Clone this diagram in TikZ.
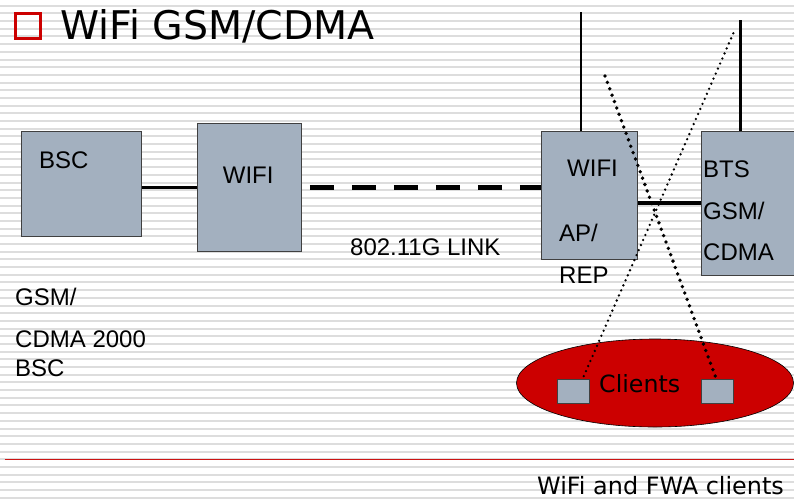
\documentclass[tikz,border=0pt]{standalone}
\usepackage{fontspec}
\setmainfont{DejaVu Sans}
\newfontfamily\arialfont{Liberation Sans}
\usetikzlibrary{shapes.geometric}

\definecolor{boxgray}{RGB}{163,176,191}
\definecolor{slidered}{RGB}{204,0,0}
\definecolor{rulered}{RGB}{205,20,20}
\definecolor{stripegray}{RGB}{221,221,221}

\tikzset{
	unit/.style={draw=black!75, fill=boxgray, line width=0.8pt, inner sep=0pt, anchor=north west},
	txt/.style={font=\arialfont\fontsize{24}{29}\selectfont, inner sep=0pt, anchor=base west, align=left},
	wire/.style={line width=3.6pt},
	airlink/.style={line width=5.7pt, dash pattern=on 24pt off 18pt, dash phase=34pt},
	radio/.style={line width=#1, dash pattern=on 0pt off 6.5pt, line cap=round},
}

\begin{document}
\begin{tikzpicture}[x=1pt,y=-1pt]
	\useasboundingbox (0,0) rectangle (794,498);
	\clip (0,0) rectangle (794,498);
	\fill[white] (0,0) rectangle (794,498);
	% slide stripes
	\foreach \i in {0,...,64}
		\draw[stripegray, line width=2pt] (0,5.7+\i*7.6875) -- (794,5.7+\i*7.6875);

	% title
	\node[draw=slidered, line width=3pt, minimum size=25pt, inner sep=0pt] (bullet) at (27.5,25.5) {};
	\node[font=\fontsize{39.5}{45}\selectfont, inner sep=0pt, anchor=base west] (title) at (60,39.5) {WiFi GSM/CDMA};

	% boxes
	\node[unit, minimum width=120pt, minimum height=105pt] (bsc) at (21,131) {};
	\node[unit, minimum width=104pt, minimum height=128pt] (wifi) at (197,123) {};
	\node[unit, minimum width=96pt, minimum height=128pt] (ap) at (541,131) {};
	\node[unit, minimum width=110pt, minimum height=144pt] (bts) at (701,131) {};

	% texts (multi-line ones sit on their last baseline)
	\node[txt] (bsctxt) at (39,168) {BSC};
	\node[txt] (wifitxt) at (222.7,183.6) {WIFI};
	\node[txt] (aptxt) at (567,176.5) {WIFI};
	\node[txt, font=\arialfont\fontsize{24}{41.5}\selectfont] (reptxt) at (559,283) {AP/\\REP};
	\node[txt, font=\arialfont\fontsize{24}{41.6}\selectfont] (btstxt) at (703,260.7) {BTS\\GSM/\\CDMA};
	\node[txt] (linktxt) at (350,255.5) {802.11G LINK};
	\node[txt] (gsmtxt) at (15,305) {GSM/};
	\node[txt] (cdmatxt) at (15,376.7) {CDMA 2000\\BSC};

	% links
	\draw[wire] (wifi.west -| bsc.east) -- (wifi.west);
	\draw[airlink] (wifi.east) -- (wifi.east -| ap.west);
	\draw[wire] ([yshift=-7.7pt]ap.east) -- ([yshift=-7.7pt]ap.east -| bts.west);

	% antennas
	\coordinate (apant) at (580.7,12);
	\coordinate (btsant) at (740.7,20);
	\draw[line width=1.6pt] (apant) -- (apant |- ap.north);
	\draw[line width=3pt] (btsant) -- (btsant |- bts.north);

	% clients
	\node[ellipse, draw=black, fill=slidered, line width=0.6pt, minimum width=277pt, minimum height=88pt, inner sep=0pt] (clients) at (655,383) {};
	\node[unit, minimum width=32.6pt, minimum height=24pt] (cla) at (556.7,379.3) {};
	\node[unit, minimum width=32.6pt, minimum height=24pt] (clb) at (700.7,379.3) {};
	\node[font=\fontsize{23.7}{28}\selectfont, inner sep=0pt, anchor=base west] (clientstxt) at (599,392) {Clients};

	% radio paths
	\coordinate (rayA) at (605,76);
	\coordinate (rayB) at (733.3,33.3);
	\draw[radio=3.8pt, dash pattern=on 0pt off 6.8pt] (rayA) -- ([xshift=-1pt]clb.north);
	\draw[radio=2.6pt, dash pattern=on 0pt off 5.5pt] (rayB) -- ([xshift=9pt]cla.north);

	% footer
	\draw[rulered, line width=1.1pt] (4.7,459.3) -- (800,459.3);
	\node[font=\fontsize{23.9}{28}\selectfont, inner sep=0pt, anchor=base west] (caption) at (537,494.5) {WiFi and FWA clients};
\end{tikzpicture}
\end{document}
